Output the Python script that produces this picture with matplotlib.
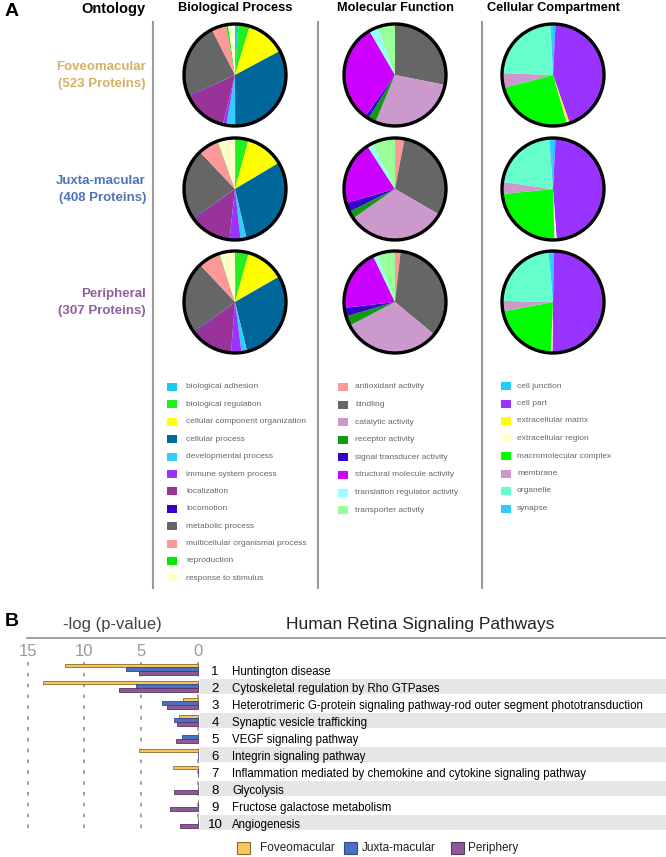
import matplotlib
matplotlib.use("Agg")
import matplotlib.pyplot as plt
from matplotlib.patches import Circle, Rectangle
from matplotlib.lines import Line2D

plt.rcParams['font.family'] = ['Liberation Sans', 'DejaVu Sans']

W, H = 666, 857

# ---------------- panel A data (percent of proteins) ----------------
regions = ["Foveomacular", "Juxta-macular", "Peripheral"]
protein_counts = ["(523 Proteins)", "(408 Proteins)", "(307 Proteins)"]
region_colors = ["#D6B064", "#4F72B8", "#8F5E9E"]

bp_labels = ["biological adhesion", "biological regulation", "cellular component organization",
             "cellular process", "developmental process", "immune system process", "localization",
             "locomotion", "metabolic process", "multicellular organismal process", "reproduction",
             "response to stimulus"]
bp_colors = ["#1EC8F0", "#22EE22", "#FFFF00", "#00679A", "#33CCFF", "#9933FF", "#993399",
             "#3300CC", "#666666", "#FF9999", "#00EE00", "#FFFFCC"]
bp_fovea = [1.1, 3.6, 12.5, 32.8, 2.8, 1.1, 14.2, 0.3, 24.2, 4.7, 0.6, 2.2]
bp_juxta = [0.3, 4.0, 12.2, 30.0, 1.9, 3.5, 13.2, 0.3, 22.8, 6.4, 0.2, 5.5]
bp_periph = [0.4, 4.0, 12.3, 29.5, 1.8, 3.3, 13.5, 0.3, 23.0, 6.9, 0.2, 4.9]

mf_labels = ["antioxidant activity", "bindling", "catalytic activity", "receptor activity",
             "signal transducer activity", "structural molecule activity",
             "translation regulator activity", "transporter activity"]
mf_colors = ["#FF9999", "#666666", "#CC99CC", "#119911", "#3300CC", "#CC00FF", "#99FFFF", "#99FF99"]
mf_fovea = [0.0, 28.2, 28.2, 2.4, 1.3, 31.7, 2.8, 5.6]
mf_juxta = [3.0, 30.3, 31.9, 2.4, 2.9, 20.3, 1.9, 7.2]
mf_periph = [1.8, 34.3, 31.4, 3.1, 2.7, 19.8, 1.5, 5.6]

cc_labels = ["cell junction", "cell part", "extracellular matrix", "extracellular region",
             "macromolecular complex", "membrane", "organelle", "synapse"]
cc_colors = ["#22CCFF", "#9933FF", "#FFFF00", "#FFFFCC", "#00FF00", "#CC99CC", "#66FFCC", "#33CCFF"]
cc_fovea = [0.8, 43.9, 0.6, 0.3, 25.3, 4.7, 23.6, 0.8]
cc_juxta = [0.8, 48.1, 0.0, 0.7, 23.9, 3.8, 21.6, 1.2]
cc_periph = [0.3, 50.0, 0.0, 0.5, 21.4, 3.3, 23.3, 1.4]

# ---------------- panel B data (-log p-value) ----------------
pathways = ["Huntington disease", "Cytoskeletal regulation by Rho GTPases",
            "Heterotrimeric G-protein signaling pathway-rod outer segment phototransduction",
            "Synaptic vesicle trafficking", "VEGF signaling pathway", "Integrin signaling pathway",
            "Inflammation mediated by chemokine and cytokine signaling pathway", "Glycolysis",
            "Fructose galactose metabolism", "Angiogenesis"]
fovea_p = [11.7, 13.7, 1.35, 1.65, 0, 5.2, 2.2, 0, 0, 0]
juxta_p = [6.3, 5.5, 3.15, 2.1, 1.4, 0, 0, 0, 0, 0]
periph_p = [5.2, 7.0, 2.75, 1.85, 1.95, 0, 0, 2.1, 2.5, 1.55]
xticks_b = [15, 10, 5, 0]
series_names = ["Foveomacular", "Juxta-macular", "Periphery"]
series_colors = ["#F9C55E", "#4B70BF", "#8C5A96"]
series_edges = ["#8a6d2a", "#2d4a8a", "#5a3463"]


def fx(x):
    return x / W


def fy(y):
    return 1 - y / H


fig = plt.figure(figsize=(W / 100, H / 100), dpi=100)

# ---------------- panel A ----------------
fig.text(fx(5), fy(11), "A", fontsize=14, fontweight='bold', va='center', ha='left')
fig.text(fx(146), fy(9), "Ontology", fontsize=10.5, fontweight='bold', va='center', ha='right')
col_x = [235, 395, 553]
col_titles = ["Biological Process", "Molecular Function", "Cellular Compartment"]
for cx, t in zip(col_x, col_titles):
    fig.text(fx(cx), fy(8), t, fontsize=9.2, fontweight='bold', va='center', ha='center')

for lx in [153, 318, 482]:
    fig.add_artist(Line2D([fx(lx), fx(lx)], [fy(22), fy(588)], color='#9a9a9a', lw=1.5))

row_y = [75, 189, 302]
for i in range(3):
    fig.text(fx(146), fy(row_y[i] - 8), regions[i], fontsize=9.5, fontweight='bold',
             color=region_colors[i], ha='right', va='center')
    fig.text(fx(146), fy(row_y[i] + 9), protein_counts[i], fontsize=9.5, fontweight='bold',
             color=region_colors[i], ha='right', va='center')

pie_data = [[bp_fovea, bp_juxta, bp_periph], [mf_fovea, mf_juxta, mf_periph],
            [cc_fovea, cc_juxta, cc_periph]]
pie_colors = [bp_colors, mf_colors, cc_colors]
r = 51
for c in range(3):
    for rr in range(3):
        cx, cy = col_x[c], row_y[rr]
        s = 1.08
        ax = fig.add_axes([fx(cx - r * s), fy(cy + r * s), 2 * r * s / W, 2 * r * s / H])
        ax.pie(pie_data[c][rr], colors=pie_colors[c], startangle=90, counterclock=False,
               radius=1, wedgeprops=dict(linewidth=0))
        ax.add_patch(Circle((0, 0), 1, fill=False, ec='black', lw=2.4))
        ax.set_xlim(-s, s)
        ax.set_ylim(-s, s)
        ax.set_aspect('auto')
        ax.axis('off')

# legends under the pies
leg_specs = [(bp_labels, bp_colors, 167, 186, 387, 17.4),
             (mf_labels, mf_colors, 338, 355, 387, 17.6),
             (cc_labels, cc_colors, 501, 517, 386, 17.5)]
for labels, colors, sx, tx, y0, dy in leg_specs:
    for k in range(len(labels)):
        y = y0 + k * dy
        fig.add_artist(Rectangle((fx(sx), fy(y + 4)), 10 / W, 8 / H, color=colors[k], lw=0))
        fig.text(fx(tx), fy(y), labels[k], fontsize=6.0, color='#666666', va='center', ha='left')

# ---------------- panel B ----------------
fig.text(fx(5), fy(622), "B", fontsize=14, fontweight='bold', va='center', ha='left')
fig.text(fx(112), fy(624), "-log (p-value)", fontsize=12, color='#444444', va='center', ha='center')
fig.text(fx(420), fy(624), "Human Retina Signaling Pathways", fontsize=12.5, color='#222222',
         va='center', ha='center')
fig.add_artist(Line2D([fx(27), fx(666)], [fy(638), fy(638)], color='#9a9a9a', lw=1.3))

u = 11.35      # px per unit
x0 = 198       # px of value 0
top, bot = 660, 835
row_h = 17.0
first = 669.5
axb = fig.add_axes([0, fy(bot), 1, (bot - top) / H])
axb.set_xlim(x0 / u, -(W - x0) / u)
axb.set_ylim((bot - first) / row_h, (top - first) / row_h)
axb.axis('off')

for t in xticks_b:
    fig.text(fx(x0 - t * u), fy(651), str(t), fontsize=12, color='#9a9a9a', ha='center', va='center')
axb.vlines(xticks_b, (662 - first) / row_h, (832 - first) / row_h, colors='#9a9a9a',
           linestyles=(0, (2, 4)), lw=1.3, zorder=0)

n = len(pathways)
for i in range(n):
    if i % 2 == 1:
        axb.barh(i, -(W - 200) / u, left=-2 / u, height=15 / row_h, color='#E6E6E6', lw=0, zorder=1)
    axb.text(-(215 - x0) / u, i + 0.12, str(i + 1), fontsize=9.5, ha='center', va='center', zorder=3)
    axb.text(-(232 - x0) / u, i + 0.12, pathways[i], fontsize=8.3, ha='left', va='center', zorder=3)

offsets = [-0.24, -0.02, 0.19]
bar_h = 0.21
for vals, off, col, ec in zip([fovea_p, juxta_p, periph_p], offsets, series_colors, series_edges):
    ys = [i + off for i in range(n)]
    axb.barh(ys, vals, left=0, height=bar_h, color=col, edgecolor=ec, lw=0.6, zorder=2)

leg_x = [(237, 260), (344, 362), (451, 468)]
for (sx, tx), name, col, ec in zip(leg_x, series_names, series_colors, series_edges):
    fig.add_artist(Rectangle((fx(sx), fy(854)), 13 / W, 12 / H, fc=col, ec=ec, lw=0.8))
    fig.text(fx(tx), fy(848), name, fontsize=8.5, color='#222222', va='center', ha='left')

plt.savefig("out.png", dpi=100)
